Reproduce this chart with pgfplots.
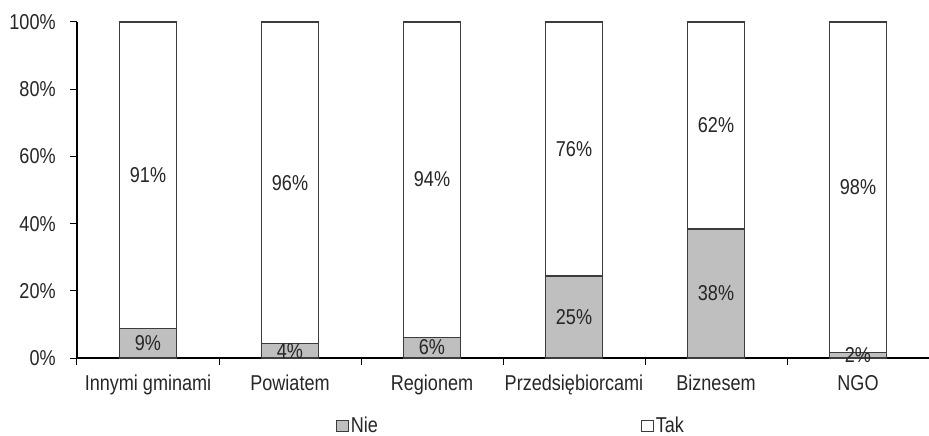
\documentclass[border=0pt]{standalone}
\usepackage{pgfplots}
\pgfplotsset{compat=1.18}
\usepackage{fontspec}
\setmainfont{Liberation Sans}[FakeStretch=0.84]

\definecolor{niefill}{RGB}{191,191,191}
\definecolor{edge}{RGB}{60,60,60}
\definecolor{txt}{RGB}{38,38,38}

\pgfplotstableread{
x nie  tak  nielab taklab
0 8.7  91.3 9  91
1 4.4  95.6 4  96
2 6.2  93.8 6  94
3 24.4 75.6 25 76
4 38.4 61.6 38 62
5 1.7  98.3 2  98
}\data

\begin{document}
\fontsize{21.5bp}{25bp}\selectfont
\begin{tikzpicture}
\begin{axis}[
  scale only axis, width=852bp, height=336bp,
  ybar stacked, bar width=57bp,
  xmin=-0.5, xmax=5.5, ymin=0, ymax=100,
  axis x line*=bottom, axis y line*=left,
  axis line style={-, line width=1.6bp, black},
  tick align=outside,
  xtick={0,...,5},
  xticklabels={Innymi gminami, Powiatem, Regionem, Przedsiębiorcami, Biznesem, NGO},
  major x tick style={draw=none},
  minor xtick={-0.5,0.5,1.5,2.5,3.5,4.5,5.5},
  minor tick length=7bp,
  minor x tick style={line width=1bp, black},
  ytick={0,20,...,100},
  yticklabel={\pgfmathprintnumber{\tick}\%},
  major tick length=7bp,
  major y tick style={line width=1bp, black},
  /pgf/number format/assume math mode=true,
  ticklabel style={text=txt, font=\fontsize{21.5bp}{25bp}\selectfont},
  xticklabel style={yshift=-3bp},
  yticklabel style={xshift=-7bp},
  nodes near coords={\pgfmathprintnumber{\pgfplotspointmeta}\%},
  every node near coord/.append style={text=txt, font=\fontsize{21.5bp}{25bp}\selectfont, anchor=center},
  legend columns=2,
  legend style={at={(rel axis cs:0.3035,-0.203)}, anchor=west, draw=none, inner sep=0pt,
    fill=none, font=\fontsize{21.5bp}{25bp}\selectfont, text=txt,
    /tikz/column 2/.style={column sep=261bp}},
  legend image code/.code={\draw[#1, line width=1bp] (0bp,-5.5bp) rectangle (12bp,5.5bp);},
]
\addplot[fill=niefill, draw=edge, line width=1.2bp,
  point meta=\thisrow{nielab}]
  table[x=x, y=nie] {\data};
\addplot[fill=white, draw=edge, line width=1.2bp,
  point meta=\thisrow{taklab}]
  table[x=x, y=tak] {\data};
\legend{Nie, Tak}
\end{axis}
\pgfresetboundingbox
\path (current axis.south west) ++(-77bp,-78bp) rectangle ++(929bp,436bp);
\end{tikzpicture}
\end{document}
